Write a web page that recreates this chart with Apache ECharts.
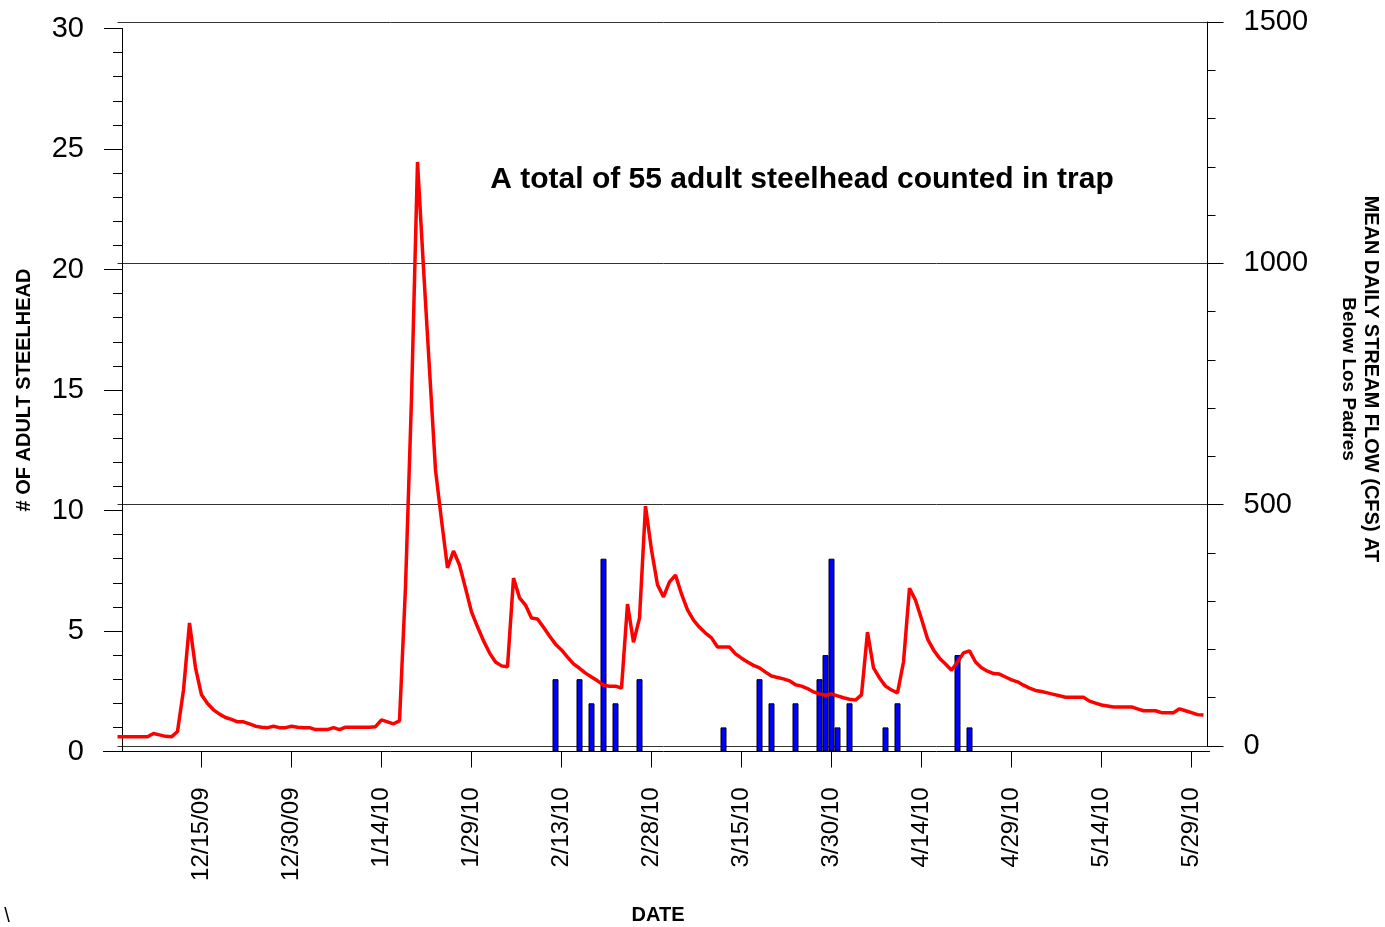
<!DOCTYPE html>
<html>
<head>
<meta charset="utf-8">
<script src="https://cdn.jsdelivr.net/npm/echarts@6/dist/echarts.min.js"></script>
<style>
html,body{margin:0;padding:0;background:#fff;}
#chart{width:1385px;height:927px;}
</style>
</head>
<body>
<div id="chart"></div>
<script>
// ---- DATA ----
const flowStartDate = '12/1/09';
const flowValues = [
  19,19,19,19,19,19,26,23,20,19,
  30,116,255,162,106,88,75,66,59,55,
  50,50,46,41,39,38,41,38,38,41,
  39,38,38,34,34,34,38,34,39,39,
  39,39,39,40,54,50,46,52,330,720,
  1210,990,780,572,468,369,404,375,327,278,
  247,218,193,174,166,164,348,307,292,265,
  263,246,228,211,199,184,170,161,151,143,
  135,126,124,124,120,294,215,265,497,406,
  334,309,340,354,315,282,261,246,234,224,
  205,205,205,191,182,174,167,162,153,145,
  142,139,135,127,124,119,112,108,105,108,
  104,100,97,95,106,236,162,141,124,116,
  110,174,327,302,263,222,199,182,170,157,
  174,193,197,174,162,155,150,149,143,137,
  133,126,120,115,113,110,107,104,101,101,
  101,101,93,89,85,83,81,81,81,81,
  77,73,73,73,69,69,69,77,73,69,
  65,64
];
const fishDates = ['2/12/10','2/16/10','2/18/10','2/20/10','2/22/10','2/26/10',
  '3/12/10','3/18/10','3/20/10','3/24/10','3/28/10','3/29/10','3/30/10','3/31/10',
  '4/2/10','4/8/10','4/10/10','4/20/10','4/22/10'];
const fishCounts = [3,3,2,8,2,3,1,3,2,2,3,4,8,1,2,1,2,4,1];
const xTickLabels = ['12/15/09','12/30/09','1/14/10','1/29/10','2/13/10','2/28/10',
  '3/15/10','3/30/10','4/14/10','4/29/10','5/14/10','5/29/10'];
const xMinDate = '12/1/09';
const xMaxDate = '6/1/10';
const leftTicks = [0,5,10,15,20,25,30];
const rightTicks = [0,500,1000,1500];

// ---- helpers ----
const BASE = Date.UTC(2009,10,30);
function dayIndex(s){
  const p = s.split('/');
  return Math.round((Date.UTC(2000+ +p[2], +p[0]-1, +p[1]) - BASE)/86400000);
}
const labelByDay = {};
xTickLabels.forEach(l => { labelByDay[dayIndex(l)] = l; });
const tickDays = xTickLabels.map(dayIndex);
const d0 = dayIndex(flowStartDate);
const flowData = flowValues.map((v,i) => [d0+i, v]);
const fishData = fishDates.map((d,i) => [dayIndex(d), fishCounts[i]]);
const xmin = dayIndex(xMinDate), xmax = dayIndex(xMaxDate);

const FONT = '"Liberation Sans", Arial, sans-serif';
const chart = echarts.init(document.getElementById('chart'));

const gridLeft = 117.5, gridWidth = 1092;
chart.setOption({
  animation:false,
  backgroundColor:'#fff',
  grid:[
    {left:gridLeft, width:gridWidth, top:28.5, height:723, outerBoundsMode:'none', containLabel:false},
    {left:gridLeft, width:gridWidth, top:22, height:724, outerBoundsMode:'none', containLabel:false}
  ],
  xAxis:[
    {type:'value', gridIndex:0, min:xmin, max:xmax,
     axisLine:{show:true, lineStyle:{color:'#000', width:1}},
     axisTick:{show:true, customValues:tickDays, length:16, lineStyle:{color:'#000'}},
     axisLabel:{show:true, customValues:tickDays, rotate:90, margin:36,
       fontSize:24, fontFamily:FONT, color:'#000',
       formatter:v => labelByDay[Math.round(v)] || ''},
     splitLine:{show:false}},
    {type:'value', gridIndex:1, min:xmin, max:xmax, show:false}
  ],
  yAxis:[
    {type:'value', gridIndex:0, position:'left', min:0, max:30, interval:5, offset:-4.5,
     axisLine:{show:true, lineStyle:{color:'#000'}},
     axisTick:{show:true, length:18, lineStyle:{color:'#000'}},
     minorTick:{show:true, splitNumber:5, length:9, lineStyle:{color:'#000'}},
     axisLabel:{margin:38, fontSize:29, fontFamily:FONT, color:'#000',
       formatter:v => leftTicks.indexOf(v) >= 0 ? String(v) : ''},
     splitLine:{show:false}},
    {type:'value', gridIndex:1, position:'right', min:0, max:1500, interval:500, offset:-2,
     axisLine:{show:true, lineStyle:{color:'#000'}},
     axisTick:{show:true, length:16, lineStyle:{color:'#000'}},
     minorTick:{show:true, splitNumber:5, length:8, lineStyle:{color:'#000'}},
     axisLabel:{margin:36, fontSize:29, fontFamily:FONT, color:'#000',
       formatter:v => rightTicks.indexOf(v) >= 0 ? String(v) : ''},
     splitLine:{show:true, lineStyle:{color:'#333', width:1}}}
  ],
  series:[
    {type:'bar', xAxisIndex:0, yAxisIndex:0, data:fishData, barWidth:6, z:2,
     itemStyle:{color:'#0000FF', borderColor:'#000', borderWidth:1}},
    {type:'line', xAxisIndex:1, yAxisIndex:1, data:flowData, z:3,
     symbol:'none', lineStyle:{color:'#FF0000', width:3.5}}
  ],
  graphic:[
    {type:'line', shape:{x1:103, y1:751.5, x2:gridLeft, y2:751.5}, style:{stroke:'#000', lineWidth:1}},
    {type:'text', x:802, y:180, style:{text:'A total of 55 adult steelhead counted in trap',
      font:'bold 30px ' + FONT, fill:'#000', align:'center', verticalAlign:'middle'}},
    {type:'text', x:24, y:390, rotation:Math.PI/2, style:{text:'# OF ADULT STEELHEAD',
      font:'bold 20px ' + FONT, fill:'#000', align:'center', verticalAlign:'middle'}},
    {type:'text', x:1371, y:379, rotation:-Math.PI/2, style:{text:'MEAN DAILY STREAM FLOW (CFS) AT',
      font:'bold 20px ' + FONT, fill:'#000', align:'center', verticalAlign:'middle'}},
    {type:'text', x:1348, y:379, rotation:-Math.PI/2, style:{text:'Below Los Padres',
      font:'bold 19px ' + FONT, fill:'#000', align:'center', verticalAlign:'middle'}},
    {type:'text', x:658, y:915, style:{text:'DATE',
      font:'bold 20px ' + FONT, fill:'#000', align:'center', verticalAlign:'middle'}},
    {type:'text', x:7, y:916, style:{text:'\\',
      font:'20px ' + FONT, fill:'#000', align:'center', verticalAlign:'middle'}}
  ]
});
</script>
</body>
</html>
